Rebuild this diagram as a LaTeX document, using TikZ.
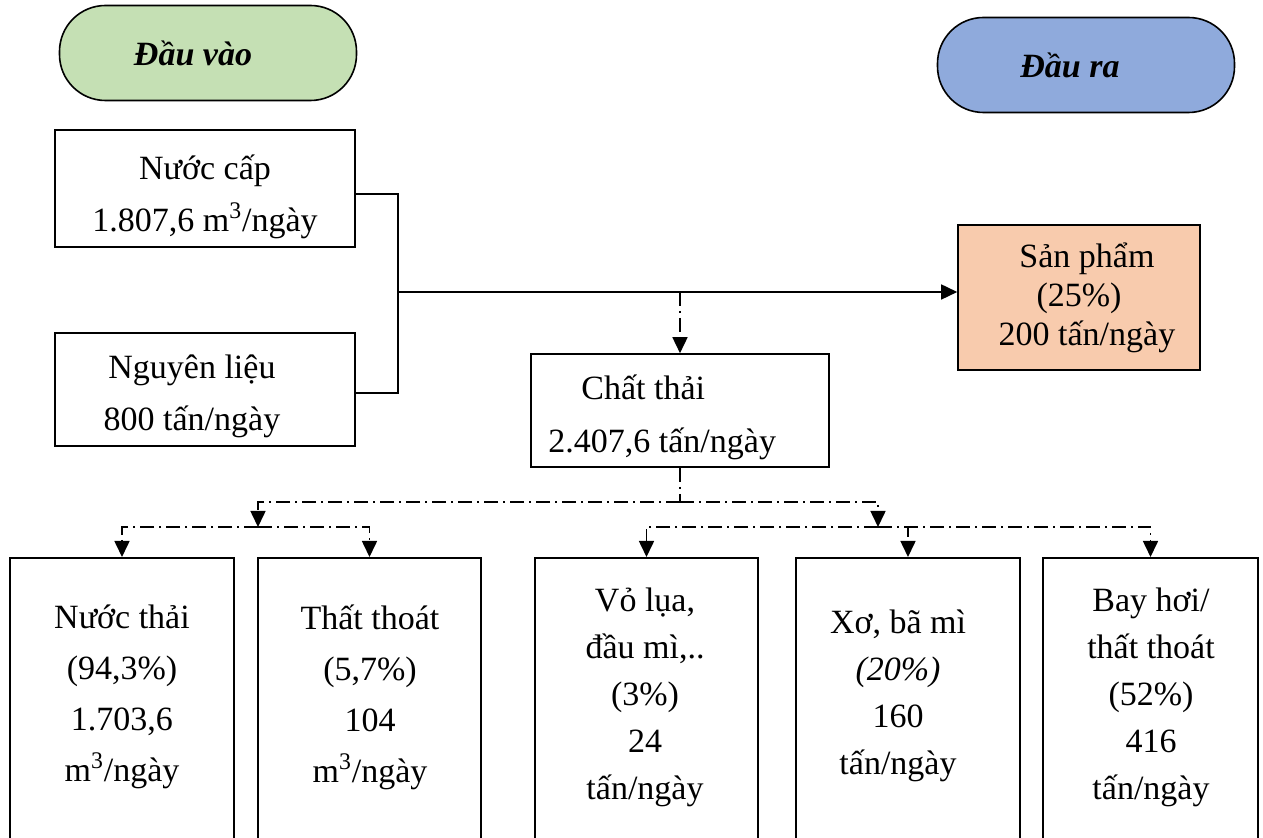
\documentclass[tikz,border=0pt]{standalone}
\usepackage{fontspec}
\setmainfont{Liberation Serif}
\usetikzlibrary{arrows.meta}
\definecolor{vaogreen}{HTML}{C5E0B4}
\definecolor{rablue}{HTML}{8FAADC}
\definecolor{sppeach}{HTML}{F8CBAD}

\begin{document}
\begin{tikzpicture}[x=0.5pt,y=-0.5pt,
  every node/.style={font=\fontsize{17}{26}\selectfont},
  oval/.style={draw,line width=0.8pt,rounded corners=23pt,minimum width=148.5pt,minimum height=47.5pt,font=\fontsize{17}{20}\selectfont\bfseries\itshape},
  box/.style={draw,line width=0.8pt,inner sep=0pt,align=center},
  lowbox/.style={draw,line width=0.8pt,anchor=north,minimum height=180pt},
  txt/.style={anchor=north,inner sep=0pt,align=center},
  link/.style={line width=0.8pt},
  dd/.style={line width=0.8pt,dash pattern=on 7pt off 2.5pt on 1pt off 2.5pt},
  tip/.style={-{Triangle[length=8pt,width=7.5pt]}}
]
\clip (0,0) rectangle (1263,838);

% inputs and outputs
\node[oval,fill=vaogreen] (vao) at (208,53) {\hspace*{-15pt}Đầu vào};
\node[oval,fill=rablue] (ra) at (1086,65) {\hspace*{-16pt}Đầu ra};

\node[box,minimum width=150pt,minimum height=58.5pt] (cap) at (205,188.5) {};
\node[box,minimum width=150pt,minimum height=56.5pt] (nl) at (205,389.5) {};
\node[box,fill=sppeach,minimum width=121pt,minimum height=72.5pt,font=\fontsize{17}{19.5}\selectfont] (sp) at (1079,297.5)
  {Sản phẩm\hspace*{-8pt}\\(25\%)\hspace*{-8pt}\\200 tấn/ngày\hspace*{-8pt}};
\node[box,minimum width=149pt,minimum height=56.5pt] (ct) at (680,410.5) {};

\node[txt] (capx) at (205,154) {Nước cấp\\1.807,6 m\textsuperscript{3}/ngày};
\node[txt] (nlx) at (192,354) {Nguyên liệu\\800 tấn/ngày};
\node[txt,anchor=north west,align=left,font=\fontsize{17}{26.5}\selectfont] (ctx) at (548,374)
  {\hspace*{16.5pt}Chất thải\\2.407,6 tấn/ngày};

% waste streams
\node[lowbox,minimum width=112pt] (nt) at (122,557) {};
\node[lowbox,minimum width=111.5pt] (tt) at (369.5,557) {};
\node[lowbox,minimum width=111.5pt] (vl) at (646.5,557) {};
\node[lowbox,minimum width=112pt] (xo) at (908,557) {};
\node[lowbox,minimum width=107.5pt] (bh) at (1150.5,557) {};

\node[txt,font=\fontsize{17}{25.5}\selectfont] (ntx) at (122,604)
  {Nước thải\\(94,3\%)\\1.703,6\\m\textsuperscript{3}/ngày};
\node[txt,font=\fontsize{17}{25.5}\selectfont] (ttx) at (370,604)
  {Thất thoát\\(5,7\%)\\104\\m\textsuperscript{3}/ngày};
\node[txt,font=\fontsize{17}{23.5}\selectfont] (vlx) at (645,588)
  {Vỏ lụa,\\đầu mì,..\\(3\%)\\24\\tấn/ngày};
\node[txt,font=\fontsize{17}{23.5}\selectfont] (xox) at (898,609)
  {Xơ, bã mì\\\textit{(20\%)}\\160\\tấn/ngày};
\node[txt,font=\fontsize{17}{23.5}\selectfont] (bhx) at (1151,588)
  {Bay hơi/\\thất thoát\\(52\%)\\416\\tấn/ngày};

% connectors
\coordinate (join) at (398,292);
\draw[link] ([yshift=-2.75pt]cap.east) -| (join) |- ([yshift=-1.75pt]nl.east);
\draw[link,tip] (join) -- (join -| sp.west);
\draw[dd,tip] (join -| ct.north) -- (ct.north);

\coordinate (split) at (680,502);
\coordinate (lmid) at (258,527);
\coordinate (rmid) at (878,527);
\draw[dd] (ct.south) -- (split);
\draw[dd,tip] (split) -| (lmid);
\draw[dd,tip] (split) -| (rmid);
\draw[dd,tip] (lmid) -| (nt.north);
\draw[dd,tip] (lmid) -| (tt.north);
\draw[dd,tip] (rmid) -| (vl.north);
\draw[dd,tip] (rmid) -| (xo.north);
\draw[dd,tip] (rmid) -| (bh.north);
\end{tikzpicture}
\end{document}
